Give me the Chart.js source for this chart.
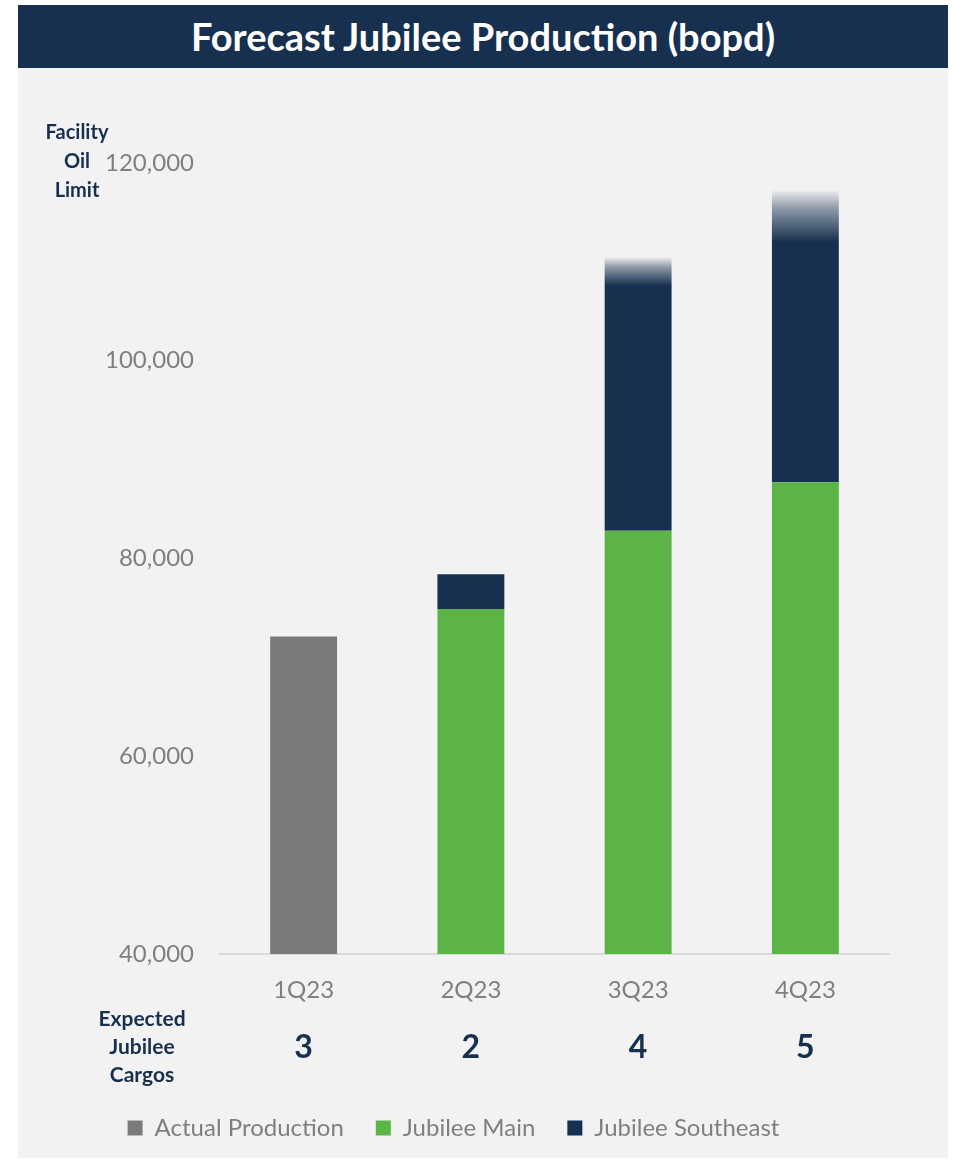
<!DOCTYPE html>
<html>
<head>
<meta charset="utf-8">
<script src="https://cdn.jsdelivr.net/npm/chart.js@4"></script>
<style>
  body { margin: 0; background: #ffffff; font-family: Lato, "Liberation Sans", sans-serif; }
  #wrap { position: absolute; left: 18px; top: 5px; width: 930px; }
  #title { height: 63px; background: #17304f; color: #fff; font-weight: bold; font-size: 38px;
           text-align: center; line-height: 63px; }
  #box { width: 930px; height: 1090px; background: #f2f2f2; }
</style>
</head>
<body>
<div id="wrap">
  <div id="title">Forecast Jubilee Production (bopd)</div>
  <div id="box"><canvas id="JubileeChart" width="930" height="1090"></canvas></div>
</div>
<script>
const quarters = ["1Q23", "2Q23", "3Q23", "4Q23"];
const actualProduction = [72100, null, null, null];
const jubileeMain = [null, 74900, 82800, 87700];
const jubileeSoutheast = [null, 3500, 27700, 29600];
// where the southeast bar starts fading out (uncertain upside)
const seFadeFrom = [null, null, 107600, 112000];
const expectedCargos = [3, 2, 4, 5];

const NAVY = "#17304f";
const GREEN = "#5cb346";
const GREY = "#7a7a7a";
const TEXT_GREY = "#7f7f7f";

const seColor = (c) => {
  const chart = c.chart;
  const i = c.dataIndex;
  if (!chart.chartArea || i === undefined || seFadeFrom[i] == null) return NAVY;
  const y = chart.scales.y;
  const top = y.getPixelForValue(jubileeMain[i] + jubileeSoutheast[i]);
  const from = y.getPixelForValue(seFadeFrom[i]);
  const g = chart.ctx.createLinearGradient(0, top, 0, from);
  g.addColorStop(0, "rgba(23,48,79,0)");
  g.addColorStop(0.35, "rgba(23,48,79,0.45)");
  g.addColorStop(1, NAVY);
  return g;
};

const sideText = {
  id: "sideText",
  afterDraw(chart) {
    const ctx = chart.ctx;
    const x = chart.scales.x;
    ctx.save();
    ctx.fillStyle = NAVY;
    ctx.textAlign = "center";
    ctx.textBaseline = "middle";
    ctx.font = "bold 20px Lato, sans-serif";
    ["Facility", "Oil", "Limit"].forEach((t, k) => ctx.fillText(t, 59, 65 + k * 29));
    ctx.font = "bold 21px Lato, sans-serif";
    ["Expected", "Jubilee", "Cargos"].forEach((t, k) => ctx.fillText(t, 124, 951 + k * 28));
    ctx.font = "bold 32px Lato, sans-serif";
    expectedCargos.forEach((n, i) => ctx.fillText(String(n), x.getPixelForValue(i), 980));
    ctx.restore();
  },
};

const ctx = document.getElementById("JubileeChart").getContext("2d");
new Chart(ctx, {
  type: "bar",
  data: {
    labels: quarters,
    datasets: [
      { label: "Actual Production", data: actualProduction, backgroundColor: GREY },
      { label: "Jubilee Main", data: jubileeMain, backgroundColor: GREEN },
      { label: "Jubilee Southeast", data: jubileeSoutheast, backgroundColor: seColor },
    ],
  },
  options: {
    responsive: false,
    animation: false,
    layout: { padding: { top: 95, right: 59, left: 0, bottom: 8 } },
    datasets: { bar: { barPercentage: 0.5, categoryPercentage: 0.8, borderWidth: 0 } },
    plugins: {
      legend: {
        position: "bottom",
        labels: {
          color: TEXT_GREY,
          font: { family: "Lato", size: 24 },
          boxWidth: 15,
          boxHeight: 15,
          padding: 32,
        },
      },
      tooltip: { enabled: false },
    },
    scales: {
      x: {
        stacked: true,
        grid: { display: false, drawTicks: false },
        border: { color: "#d9d9d9", width: 2 },
        ticks: { color: TEXT_GREY, font: { family: "Lato", size: 24 }, padding: 22 },
        afterFit: (s) => { s.height = 130; },
      },
      y: {
        stacked: true,
        min: 40000,
        max: 120000,
        grid: { display: false, drawTicks: false },
        border: { display: false },
        ticks: { stepSize: 20000, color: TEXT_GREY, font: { family: "Lato", size: 24 }, padding: 26 },
        afterFit: (s) => { s.width = 202; },
      },
    },
  },
  plugins: [sideText],
});
</script>
</body>
</html>
